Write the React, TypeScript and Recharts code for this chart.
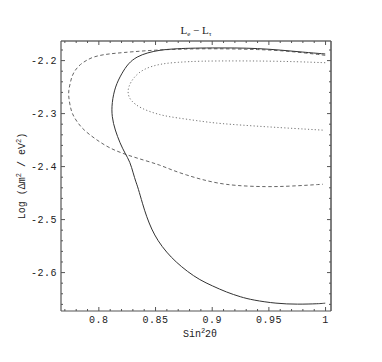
import { ComposedChart, Line, XAxis, YAxis } from "recharts";

// contour curves, [sin^2 2theta, log dm^2], in drawing order
const solidCurve: [number, number][] = [
  [0.9997, -2.1875], [0.98, -2.184], [0.96, -2.18], [0.94, -2.177], [0.92, -2.176],
  [0.9, -2.176], [0.88, -2.1765], [0.865, -2.178], [0.854, -2.18], [0.843, -2.185],
  [0.8334, -2.1926], [0.826, -2.205], [0.8202, -2.224], [0.8143, -2.249], [0.8114, -2.28],
  [0.8114, -2.306], [0.8143, -2.331], [0.8187, -2.356], [0.8231, -2.375], [0.8275, -2.391],
  [0.8304, -2.413], [0.8325, -2.428], [0.8346, -2.44], [0.8385, -2.47], [0.8422, -2.495],
  [0.8465, -2.518], [0.852, -2.54], [0.8598, -2.562], [0.868, -2.58], [0.878, -2.598],
  [0.8891, -2.614], [0.9, -2.625], [0.9126, -2.637], [0.925, -2.646], [0.936, -2.652],
  [0.9566, -2.6585], [0.975, -2.66], [0.9947, -2.6588], [0.9997, -2.6577],
];

const dashedCurve: [number, number][] = [
  [0.9997, -2.19], [0.98, -2.185], [0.96, -2.181], [0.94, -2.179], [0.92, -2.178],
  [0.9, -2.1775], [0.88, -2.178], [0.8689, -2.1786], [0.85, -2.18], [0.8302, -2.1832],
  [0.815, -2.186], [0.804, -2.1886], [0.795, -2.193], [0.7894, -2.199], [0.7835, -2.207],
  [0.7791, -2.2178], [0.7762, -2.229], [0.7747, -2.243], [0.7733, -2.256], [0.7733, -2.268],
  [0.7745, -2.284], [0.7762, -2.2996], [0.7805, -2.315], [0.7864, -2.331], [0.7982, -2.35],
  [0.8099, -2.366], [0.8246, -2.378], [0.84, -2.388], [0.8539, -2.397], [0.865, -2.407],
  [0.8774, -2.416], [0.89, -2.424], [0.9038, -2.431], [0.92, -2.436], [0.9478, -2.4384],
  [0.97, -2.437], [0.9976, -2.4333],
];

const dottedCurve: [number, number][] = [
  [0.9997, -2.204], [0.975, -2.202], [0.9478, -2.2008], [0.92, -2.2005], [0.8891, -2.2008],
  [0.87, -2.203], [0.854, -2.206], [0.8392, -2.2155], [0.8304, -2.232], [0.826, -2.2495],
  [0.8255, -2.262], [0.8275, -2.2745], [0.8363, -2.29], [0.854, -2.303], [0.8686, -2.308],
  [0.889, -2.314], [0.9038, -2.3185], [0.9478, -2.325], [0.9976, -2.3312],
];

const xTicks = [
  0.77, 0.78, 0.79, 0.8, 0.81, 0.82, 0.83, 0.84, 0.85, 0.86, 0.87, 0.88,
  0.89, 0.9, 0.91, 0.92, 0.93, 0.94, 0.95, 0.96, 0.97, 0.98, 0.99, 1,
];
const xLabelTicks = [0.8, 0.85, 0.9, 0.95, 1];

const yTicks = [
  -2.66, -2.64, -2.62, -2.6, -2.58, -2.56, -2.54, -2.52, -2.5, -2.48, -2.46, -2.44, -2.42,
  -2.4, -2.38, -2.36, -2.34, -2.32, -2.3, -2.28, -2.26, -2.24, -2.22, -2.2, -2.18,
];
const yLabelTicks = [-2.6, -2.5, -2.4, -2.3, -2.2];

const xDomain = [0.7666, 1.0048];
const yDomain = [-2.6725, -2.163];

const mono = "'Liberation Mono', 'DejaVu Sans Mono', monospace";
const serif = "'Liberation Serif', 'DejaVu Serif', serif";
const frame = "#555";

const toRows = (pts: [number, number][]) => pts.map(([x, y]) => ({ x, y }));
const inList = (v: number, list: number[]) => list.some((m) => Math.abs(m - v) < 1e-6);
const fmtX = (v: number) => (Math.abs(v - 1) < 1e-9 ? "1" : String(v));

function BottomTick(props: any) {
  const { x, y, payload } = props;
  const major = inList(payload.value, xLabelTicks);
  return (
    <g>
      <line x1={x} y1={y} x2={x} y2={y - (major ? 4 : 2)} stroke={frame} />
      {major && (
        <text x={x} y={y + 12} textAnchor="middle" fontFamily={mono} fontSize={10} letterSpacing={0.5} fill="#222">
          {fmtX(payload.value)}
        </text>
      )}
    </g>
  );
}

function TopTick(props: any) {
  const { x, y, payload } = props;
  const major = inList(payload.value, xLabelTicks);
  return <line x1={x} y1={y} x2={x} y2={y + (major ? 4 : 2)} stroke={frame} />;
}

function LeftTick(props: any) {
  const { x, y, payload } = props;
  const major = inList(payload.value, yLabelTicks);
  return (
    <g>
      <line x1={x} y1={y} x2={x + (major ? 4 : 2)} y2={y} stroke={frame} />
      {major && (
        <text x={x - 4} y={y + 3.5} textAnchor="end" fontFamily={mono} fontSize={10} letterSpacing={0.5} fill="#222">
          {payload.value.toFixed(1)}
        </text>
      )}
    </g>
  );
}

function RightTick(props: any) {
  const { x, y, payload } = props;
  const major = inList(payload.value, yLabelTicks);
  return <line x1={x} y1={y} x2={x - (major ? 4 : 2)} y2={y} stroke={frame} />;
}

export default function App() {
  return (
    <div style={{ position: "absolute", left: 0, top: 0, background: "#fff" }}>
      <ComposedChart width={382} height={362} margin={{ top: 40, right: 50, bottom: 16, left: 0 }}>
        <XAxis
          xAxisId="0"
          type="number"
          dataKey="x"
          domain={xDomain}
          allowDataOverflow
          ticks={xTicks}
          interval={0}
          tickSize={0}
          tickMargin={0}
          tickLine={false}
          tick={BottomTick}
          height={35}
          axisLine={{ stroke: frame, strokeWidth: 1.2 }}
          label={{
            position: "bottom",
            content: ({ viewBox }: any) => (
              <text x={viewBox.x + viewBox.width / 2 + 4} y={viewBox.y + 26} textAnchor="middle" fontFamily={mono} fontSize={10} fill="#222">
                Sin<tspan fontSize={7} dy={-4}>2</tspan>
                <tspan dy={4}>2θ</tspan>
              </text>
            ),
          }}
        />
        <XAxis
          xAxisId="top"
          orientation="top"
          type="number"
          dataKey="x"
          domain={xDomain}
          allowDataOverflow
          ticks={xTicks}
          interval={0}
          tickSize={0}
          tickMargin={0}
          tickLine={false}
          tick={TopTick}
          height={1}
          axisLine={{ stroke: "#222", strokeWidth: 1.2 }}
          label={{
            position: "top",
            content: ({ viewBox }: any) => (
              <text x={viewBox.x + viewBox.width / 2} y={viewBox.y - 6} textAnchor="middle" fontFamily={serif} fontSize={11} fill="#222">
                L<tspan fontSize={7} dy={2}>e</tspan>
                <tspan dy={-2}> − L</tspan>
                <tspan fontSize={7} dy={2}>τ</tspan>
              </text>
            ),
          }}
        />
        <YAxis
          yAxisId="0"
          type="number"
          domain={yDomain}
          allowDataOverflow
          ticks={yTicks}
          interval={0}
          tickSize={0}
          tickMargin={0}
          tickLine={false}
          tick={LeftTick}
          width={61}
          axisLine={{ stroke: frame, strokeWidth: 1.2 }}
          label={{
            position: "left",
            content: ({ viewBox }: any) => {
              const cx = viewBox.x + 25;
              const cy = viewBox.y + viewBox.height / 2;
              return (
                <text x={cx} y={cy} transform={`rotate(-90 ${cx} ${cy})`} textAnchor="middle" fontFamily={mono} fontSize={10} fill="#222">
                  Log (Δm<tspan fontSize={7} dy={-4}>2</tspan>
                  <tspan dy={4}> / eV</tspan>
                  <tspan fontSize={7} dy={-4}>2</tspan>
                  <tspan dy={4}>)</tspan>
                </text>
              );
            },
          }}
        />
        <YAxis
          yAxisId="right"
          orientation="right"
          type="number"
          domain={yDomain}
          allowDataOverflow
          ticks={yTicks}
          interval={0}
          tickSize={0}
          tickMargin={0}
          tickLine={false}
          tick={RightTick}
          width={1}
          axisLine={{ stroke: frame, strokeWidth: 1.5 }}
        />
        <Line
          xAxisId="0"
          yAxisId="0"
          data={toRows(dashedCurve)}
          dataKey="y"
          type="basis"
          dot={false}
          stroke="#666"
          strokeWidth={1}
          strokeDasharray="3.5 2.5"
          isAnimationActive={false}
        />
        <Line
          xAxisId="0"
          yAxisId="0"
          data={toRows(dottedCurve)}
          dataKey="y"
          type="basis"
          dot={false}
          stroke="#777"
          strokeWidth={1}
          strokeDasharray="1.2 2.2"
          isAnimationActive={false}
        />
        <Line
          xAxisId="0"
          yAxisId="0"
          data={toRows(solidCurve)}
          dataKey="y"
          type="basis"
          dot={false}
          stroke="#333"
          strokeWidth={1}
          isAnimationActive={false}
        />
      </ComposedChart>
    </div>
  );
}
